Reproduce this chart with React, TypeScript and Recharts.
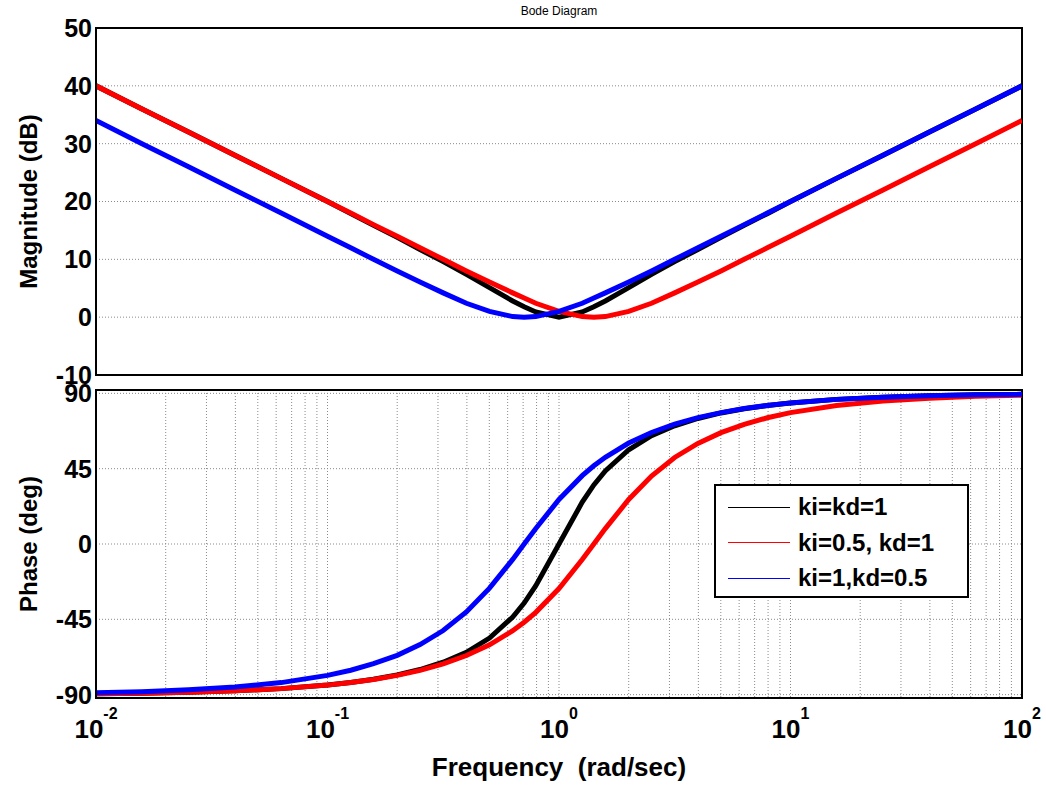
import React from 'react';
import { LineChart, Line, XAxis, YAxis, CartesianGrid, ReferenceArea } from 'recharts';

// frequencies (rad/sec)
const freq = [
  0.01, 0.0158, 0.0251, 0.0398, 0.0631, 0.1, 0.126, 0.158, 0.2, 0.251, 0.316, 0.398, 0.501,
  0.631, 0.707, 0.794, 1, 1.26, 1.414, 1.585, 2, 2.51, 3.16, 3.98, 5.01, 6.31, 7.94, 10,
  15.8, 25.1, 39.8, 63.1, 100
];

// magnitude (dB)
const magBlack = [
  40.0, 36.0, 32.0, 28.0, 24.0, 20.0, 17.9, 15.9, 13.8, 11.7, 9.6, 7.4, 5.1,
  2.8, 1.8, 0.9, 0.0, 0.9, 1.8, 2.8, 5.1, 7.4, 9.6, 11.7, 13.8, 15.9, 17.9, 20.0,
  24.0, 28.0, 32.0, 36.0, 40.0
];
const magRed = [
  40.0, 36.0, 32.0, 28.0, 24.0, 20.0, 18.0, 16.0, 14.0, 12.0, 10.0, 8.0, 6.1,
  4.2, 3.3, 2.4, 1.0, 0.1, 0.0, 0.1, 1.0, 2.4, 4.2, 6.1, 8.0, 10.0, 12.0, 14.0,
  18.0, 22.0, 26.0, 30.0, 34.0
];
const magBlue = [
  34.0, 30.0, 26.0, 22.0, 18.0, 14.0, 12.0, 10.0, 8.0, 6.1, 4.2, 2.4, 1.0,
  0.1, 0.0, 0.1, 1.0, 2.4, 3.3, 4.2, 6.1, 8.0, 10.0, 12.0, 14.0, 16.0, 18.0, 20.0,
  24.0, 28.0, 32.0, 36.0, 40.0
];

// phase (deg)
const phBlack = [
  -89.4, -89.1, -88.6, -87.7, -86.4, -84.2, -82.7, -80.8, -78.2, -75.0, -70.6, -64.7, -56.2,
  -43.6, -35.3, -24.9, 0, 25.0, 35.3, 43.6, 56.3, 64.7, 70.6, 75.0, 78.3, 80.8, 82.7, 84.2,
  86.4, 87.7, 88.6, 89.1, 89.4
];
const phRed = [
  -89.4, -89.1, -88.6, -87.7, -86.4, -84.3, -82.8, -80.9, -78.5, -75.5, -71.6, -66.6, -60.2,
  -51.8, -46.7, -40.8, -26.6, -9.3, 0, 9.2, 26.6, 40.6, 51.7, 60.1, 66.5, 71.5, 75.4, 78.5,
  82.7, 85.4, 87.1, 88.2, 88.9
];
const phBlue = [
  -88.9, -88.2, -87.1, -85.4, -82.8, -78.5, -75.4, -71.5, -66.5, -60.1, -51.7, -40.6, -26.4,
  -9.2, 0, 9.3, 26.6, 40.8, 46.7, 51.8, 60.3, 66.6, 71.6, 75.5, 78.5, 80.9, 82.8, 84.3,
  86.4, 87.7, 88.6, 89.1, 89.4
];

const freqTicks = [
  0.01, 0.02, 0.03, 0.04, 0.05, 0.06, 0.07, 0.08, 0.09,
  0.1, 0.2, 0.3, 0.4, 0.5, 0.6, 0.7, 0.8, 0.9,
  1, 2, 3, 4, 5, 6, 7, 8, 9,
  10, 20, 30, 40, 50, 60, 70, 80, 90, 100
];
const decadeTicks = [0.01, 0.1, 1, 10, 100];
const magTicks = [-10, 0, 10, 20, 30, 40, 50];
const phaseTicks = [-90, -45, 0, 45, 90];

const series = [
  { key: 'black', name: 'ki=kd=1', color: '#000000' },
  { key: 'red', name: 'ki=0.5, kd=1', color: '#ff0000' },
  { key: 'blue', name: 'ki=1,kd=0.5', color: '#0000ff' }
];

const magData = freq.map((w, i) => ({ w, black: magBlack[i], red: magRed[i], blue: magBlue[i] }));
const phaseData = freq.map((w, i) => ({ w, black: phBlack[i], red: phRed[i], blue: phBlue[i] }));

const FONT = '"Liberation Sans", Arial, Helvetica, sans-serif';
const W = 1046;
const gridStyle = { stroke: '#8a8a8a', strokeDasharray: '1 2' };
const boxLine = { stroke: '#000', strokeWidth: 2 };

const FreqTick = (props: any) => {
  const { x, y, payload } = props;
  const exp = Math.round(Math.log10(payload.value));
  if (!decadeTicks.includes(payload.value)) return <g />;
  return (
    <text x={x} y={y + 40} textAnchor="middle" fontFamily={FONT} fontWeight="bold" fontSize={26} fill="#000">
      10<tspan dy={-19} fontSize={16}>{exp}</tspan>
    </text>
  );
};

const yLabel = (text: string) => (props: any) => {
  const vb = props.viewBox;
  const cx = 28;
  const cy = vb.y + vb.height / 2;
  return (
    <text x={cx} y={cy} transform={`rotate(-90 ${cx} ${cy})`} textAnchor="middle" dominantBaseline="central"
      fontFamily={FONT} fontWeight="bold" fontSize={24} fill="#000">{text}</text>
  );
};

const xLabel = (props: any) => {
  const vb = props.viewBox;
  return (
    <text x={vb.x + vb.width / 2} y={vb.y + 78} textAnchor="middle" fontFamily={FONT} fontWeight="bold"
      fontSize={26} fill="#000" xmlSpace="preserve">Frequency  (rad/sec)</text>
  );
};

const yTickStyle = { fontFamily: FONT, fontWeight: 'bold' as const, fontSize: 25, fill: '#000' };

const renderLines = () =>
  series.map((s) => (
    <Line key={s.key} type="linear" dataKey={s.key} stroke={s.color} strokeWidth={5} dot={false}
      activeDot={false} isAnimationActive={false} />
  ));

export default function App() {
  return (
    <div style={{ position: 'absolute', left: 0, top: 0, width: W, height: 785, background: '#fff', fontFamily: FONT }}>
      <div style={{ position: 'absolute', left: 96, width: 926, top: 4, textAlign: 'center', fontSize: 12, color: '#000' }}>
        Bode Diagram
      </div>

      <div style={{ position: 'absolute', left: 0, top: 0 }}>
        <LineChart width={W} height={385} data={magData} margin={{ top: 28, right: 24, bottom: 10, left: 0 }}>
          <CartesianGrid {...gridStyle} verticalValues={freqTicks} horizontalValues={magTicks} />
          <XAxis dataKey="w" type="number" scale="log" domain={[0.01, 100]} ticks={freqTicks} allowDataOverflow
            height={0} tick={false} tickLine={false} axisLine={false} />
          <YAxis type="number" domain={[-10, 50]} ticks={magTicks} width={96} tick={yTickStyle}
            tickLine={false} tickSize={0} tickMargin={4} axisLine={boxLine} allowDataOverflow interval={0}
            label={{ content: yLabel('Magnitude (dB)') }} />
          <ReferenceArea x1={0.01} x2={100} y1={-10} y2={50} fill="none" fillOpacity={0} stroke="#000"
            strokeWidth={2} ifOverflow="visible" />
          {renderLines()}
        </LineChart>
      </div>

      <div style={{ position: 'absolute', left: 0, top: 360 }}>
        <LineChart width={W} height={425} data={phaseData} margin={{ top: 30, right: 24, bottom: 0, left: 0 }}>
          <CartesianGrid {...gridStyle} verticalValues={freqTicks} horizontalValues={phaseTicks} />
          <XAxis dataKey="w" type="number" scale="log" domain={[0.01, 100]} ticks={freqTicks} allowDataOverflow
            height={87} tick={<FreqTick />} tickLine={false} tickSize={0} tickMargin={0} axisLine={boxLine}
            interval={0} label={{ content: xLabel }} />
          <YAxis type="number" domain={[-92, 92]} ticks={phaseTicks} width={96} tick={yTickStyle}
            tickLine={false} tickSize={0} tickMargin={4} axisLine={boxLine} allowDataOverflow interval={0}
            label={{ content: yLabel('Phase (deg)') }} />
          <ReferenceArea x1={0.01} x2={100} y1={-92} y2={92} fill="none" fillOpacity={0} stroke="#000"
            strokeWidth={2} ifOverflow="visible" />
          {renderLines()}
        </LineChart>
      </div>

      <div style={{
        position: 'absolute', left: 714, top: 484, width: 251, height: 110, border: '2px solid #000',
        background: '#fff'
      }}>
        {series.map((s, i) => (
          <div key={s.key} style={{ position: 'absolute', left: 12, top: 6 + i * 35.5, height: 30, display: 'flex', alignItems: 'center' }}>
            <div style={{ width: 62, height: 1, background: s.color }} />
            <span style={{ marginLeft: 8, fontSize: 24, fontWeight: 'bold', color: '#000', whiteSpace: 'nowrap' }}>{s.name}</span>
          </div>
        ))}
      </div>
    </div>
  );
}
